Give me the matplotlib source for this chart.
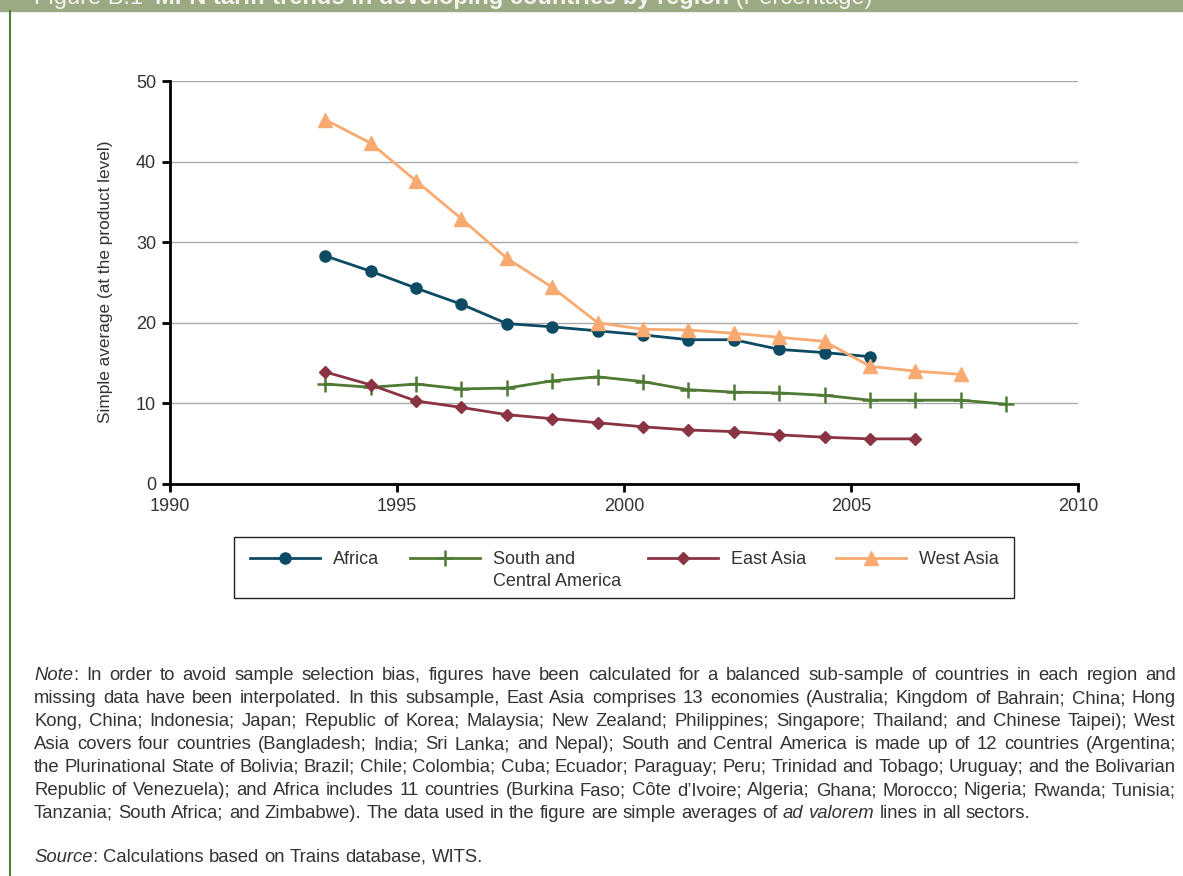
import matplotlib as mpl
mpl.use('Agg')
import matplotlib.pyplot as plt
from matplotlib.patches import Rectangle
from matplotlib.lines import Line2D

plt.rcParams['font.family'] = ['Liberation Sans', 'DejaVu Sans']

# data (percentage, simple average)
years_africa = [1993, 1994, 1995, 1996, 1997, 1998, 1999, 2000, 2001, 2002, 2003, 2004, 2005]
africa = [28.3, 26.4, 24.3, 22.3, 19.9, 19.5, 19.0, 18.5, 17.9, 17.9, 16.7, 16.3, 15.8]

years_sca = [1993, 1994, 1995, 1996, 1997, 1998, 1999, 2000, 2001, 2002, 2003, 2004, 2005, 2006, 2007, 2008]
sca = [12.4, 12.0, 12.4, 11.8, 11.9, 12.8, 13.3, 12.7, 11.7, 11.4, 11.3, 11.0, 10.4, 10.4, 10.4, 9.9]

years_east = [1993, 1994, 1995, 1996, 1997, 1998, 1999, 2000, 2001, 2002, 2003, 2004, 2005, 2006]
east_asia = [13.9, 12.3, 10.3, 9.5, 8.6, 8.1, 7.6, 7.1, 6.7, 6.5, 6.1, 5.8, 5.6, 5.6]

years_west = [1993, 1994, 1995, 1996, 1997, 1998, 1999, 2000, 2001, 2002, 2003, 2004, 2005, 2006, 2007]
west_asia = [45.2, 42.3, 37.6, 32.9, 28.0, 24.4, 20.0, 19.2, 19.1, 18.7, 18.2, 17.7, 14.6, 14.0, 13.6]

labels = ['Africa', 'South and', 'East Asia', 'West Asia']
xticks = [1990, 1995, 2000, 2005, 2010]
yticks = [0, 10, 20, 30, 40, 50]

note_lines = [
    "_Note_: In order to avoid sample selection bias, figures have been calculated for a balanced sub-sample of countries in each region and",
    "missing data have been interpolated. In this subsample, East Asia comprises 13 economies (Australia; Kingdom of Bahrain; China; Hong",
    "Kong, China; Indonesia; Japan; Republic of Korea; Malaysia; New Zealand; Philippines; Singapore; Thailand; and Chinese Taipei); West",
    "Asia covers four countries (Bangladesh; India; Sri Lanka; and Nepal); South and Central America is made up of 12 countries (Argentina;",
    "the Plurinational State of Bolivia; Brazil; Chile; Colombia; Cuba; Ecuador; Paraguay; Peru; Trinidad and Tobago; Uruguay; and the Bolivarian",
    "Republic of Venezuela); and Africa includes 11 countries (Burkina Faso; Côte d’Ivoire; Algeria; Ghana; Morocco; Nigeria; Rwanda; Tunisia;",
    "Tanzania; South Africa; and Zimbabwe). The data used in the figure are simple averages of _ad_ _valorem_ lines in all sectors.",
]
source_line = "_Source_: Calculations based on Trains database, WITS."

C_AFR = '#0d4a63'
C_SCA = '#4f7a34'
C_EAS = '#8a3443'
C_WAS = '#f8aa70'
TXT = '#333333'

W, H = 1183, 876
fig = plt.figure(figsize=(W / 100, H / 100), dpi=100)


def fx(px):
    return px / W


def fy(py):
    return 1 - py / H


# header bar and frame
fig.patches.append(Rectangle((0, fy(11)), 1, fy(0) - fy(11), transform=fig.transFigure,
                             color='#9caa84', zorder=0))
fig.lines.append(Line2D([fx(10), fx(10)], [fy(11), 0], transform=fig.transFigure,
                        color='#4f7f32', lw=1.5))

ax = fig.add_axes([fx(170), fy(484), fx(1078) - fx(170), fy(81) - fy(484)])
off = 0.42
l1, = ax.plot([y + off for y in years_africa], africa, '-o', color=C_AFR, lw=2, ms=8, zorder=3)
l2, = ax.plot([y + off for y in years_sca], sca, '-+', color=C_SCA, lw=2, ms=11, mew=1.8, zorder=3)
l3, = ax.plot([y + off for y in years_east], east_asia, '-D', color=C_EAS, lw=2, ms=6, zorder=3)
l4, = ax.plot([y + off for y in years_west], west_asia, '-^', color=C_WAS, lw=2, ms=10.5, zorder=3)

ax.set_xlim(1990, 2010)
ax.set_ylim(0, 50)
ax.set_xticks(xticks)
ax.set_yticks(yticks)
ax.grid(axis='y', color='#aaaaaa', lw=1)
ax.set_axisbelow(True)
for s in ['top', 'right']:
    ax.spines[s].set_visible(False)
for s in ['left', 'bottom']:
    ax.spines[s].set_linewidth(2)
ax.tick_params(length=6, width=2, labelsize=13, labelcolor=TXT)
ax.tick_params(axis='x', pad=4)
ax.tick_params(axis='y', pad=4)

fig.text(fx(106), fy(282), 'Simple average (at the product level)', rotation=90,
         ha='center', va='center', fontsize=12.4, color=TXT)

# legend: one entry per slot so the columns sit where the reference has them
legs = []
for line, lab, xpos in zip([l1, l2, l3, l4], labels, [250, 410, 648, 836]):
    lg = fig.legend([line], [lab], frameon=False, loc='upper left',
                    bbox_to_anchor=(fx(xpos), fy(551)), borderpad=0, borderaxespad=0,
                    handlelength=3.9, handletextpad=0.72, fontsize=13, labelcolor=TXT)
    legs.append(lg)
fig.patches.append(Rectangle((fx(234), fy(598)), fx(1014) - fx(234), fy(537) - fy(598),
                             transform=fig.transFigure, fill=False, ec='#222222', lw=1))

fig.canvas.draw()
renderer = fig.canvas.get_renderer()
bb = legs[1].get_texts()[0].get_window_extent(renderer)
fig.text(bb.x0 / W, fy(581), 'Central America', fontsize=13, color=TXT, va='center')


def draw_line(line, y_px, size, justify, x0=34, x1=1176, color=TXT):
    words = []
    for w in line.split(' '):
        parts = w.split('_')
        segs = []
        for i, p in enumerate(parts):
            if p:
                t = fig.text(0, fy(y_px), p, fontsize=size, color=color,
                             style='italic' if i % 2 else 'normal', va='baseline')
                segs.append(t)
        words.append(segs)
    widths = [[t.get_window_extent(renderer).width for t in segs] for segs in words]
    total = sum(sum(ws) for ws in widths)
    if justify and len(words) > 1:
        gap = (x1 - x0 - total) / (len(words) - 1)
    else:
        gap = size * 100 / 72 * 0.278
    x = x0
    for segs, ws in zip(words, widths):
        for t, w in zip(segs, ws):
            t.set_x(fx(x))
            x += w
        x += gap


for i, line in enumerate(note_lines):
    draw_line(line, 680 + i * 23, 13.3, justify=(i < len(note_lines) - 1))
draw_line(source_line, 862, 13.3, justify=False)

# title in header bar (mostly cut off at the top, as in the source page)
x = 34
for txt, wt in [("Figure B.1 ", 'normal'),
                ("MFN tariff trends in developing countries by region", 'bold'),
                (" (Percentage)", 'normal')]:
    t = fig.text(fx(x), fy(4), txt, fontsize=17, color='#f4f4ee', fontweight=wt, va='baseline')
    x += t.get_window_extent(renderer).width + (5 if txt.endswith(' ') else 0)

fig.savefig('out.png', dpi=100)
